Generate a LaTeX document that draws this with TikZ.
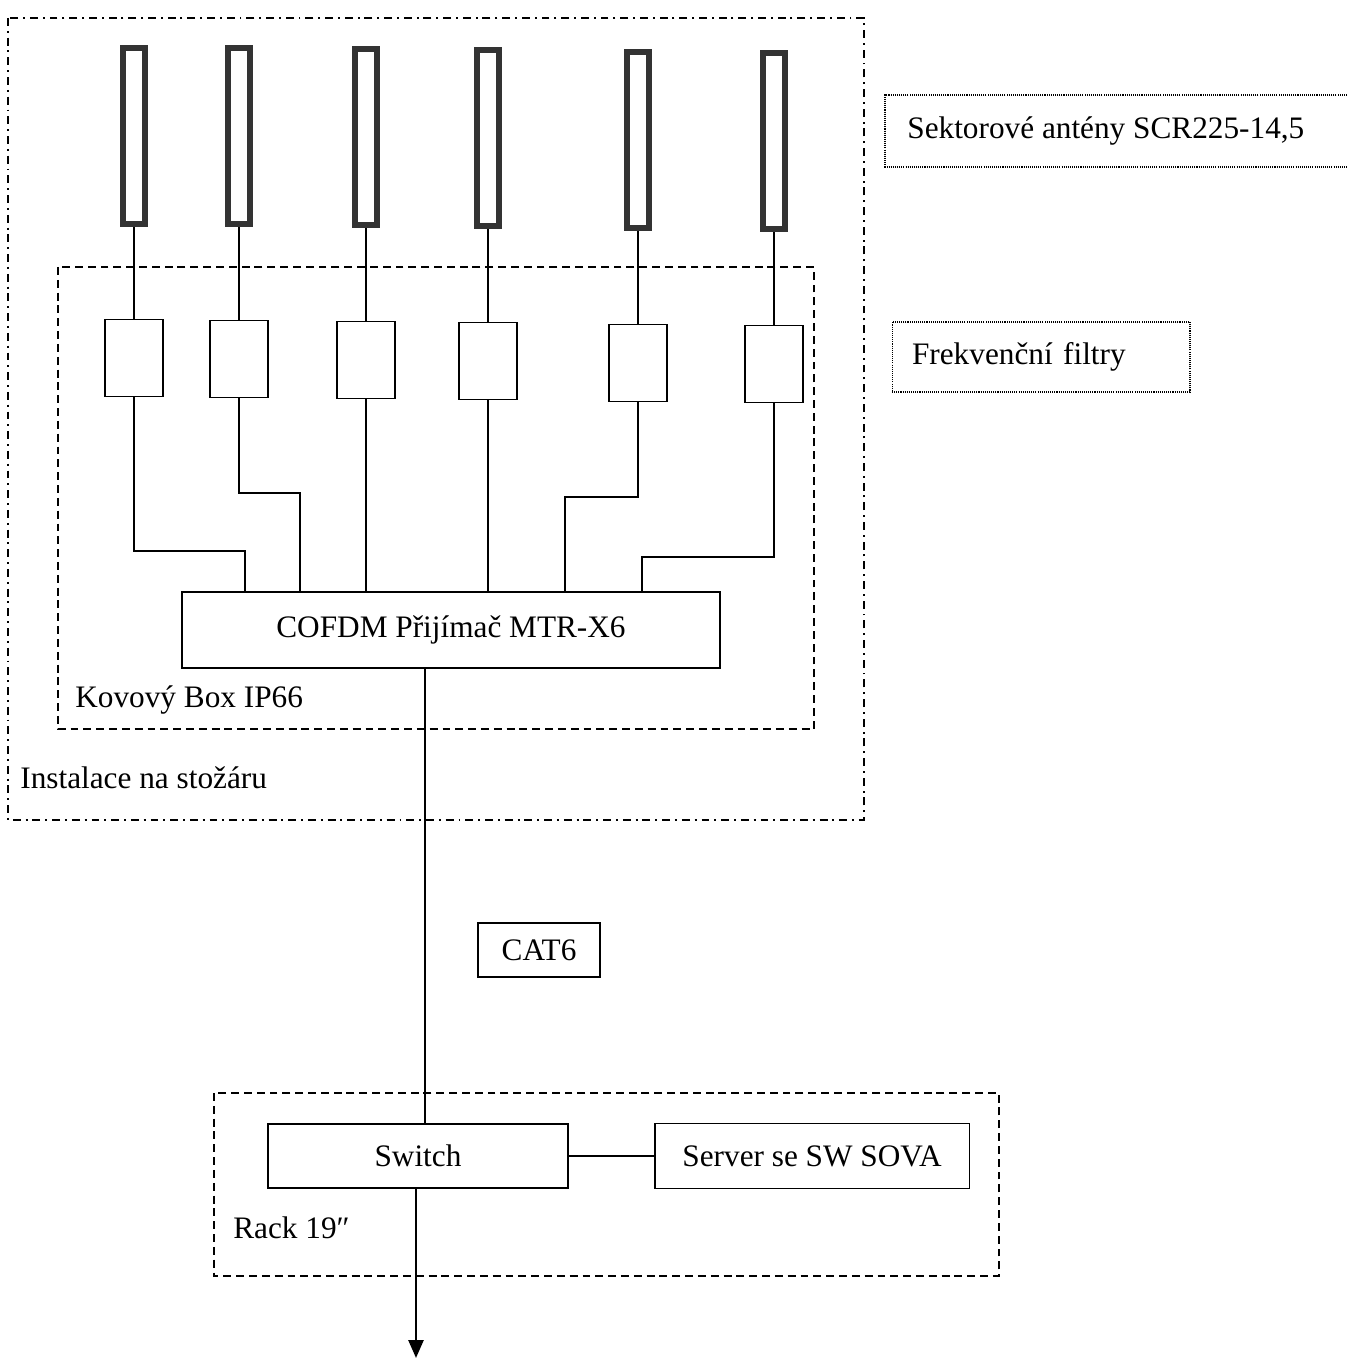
\documentclass[tikz,border=0pt]{standalone}
\usepackage{fontspec}
\setmainfont{Liberation Serif}
\usetikzlibrary{arrows.meta}

\begin{document}
\begin{tikzpicture}[x=0.02cm, y=-0.02cm,
  every node/.style={font=\fontsize{17.8}{21}\selectfont},
  antenna/.style={draw=black!80, line width=0.12cm, minimum width=0.44cm, minimum height=3.54cm, inner sep=0pt},
  filterbox/.style={draw, line width=1.1pt, minimum width=1.16cm, minimum height=1.54cm, inner sep=0pt},
  unitbox/.style={draw, line width=1.1pt, inner sep=0pt},
  wire/.style={line width=1.5pt},
  tag/.style={anchor=west, inner sep=0pt},
  mastline/.style={line width=1.1pt, dash pattern=on 4.5pt off 2.8pt on 1.1pt off 2.8pt},
  boxline/.style={line width=1.2pt, dash pattern=on 4.5pt off 2.8pt},
  noteline/.style={line width=0.6pt, dash pattern=on 0.6pt off 0.6pt}]

\useasboundingbox (0,0) rectangle (1347,1361);

\draw[mastline] (8,18) rectangle (864,820);
\draw[boxline] (58,267) rectangle (814,729);
\draw[boxline] (214,1093) rectangle (999,1276);

\node[antenna] (a1) at (134,136) {};
\node[antenna] (a2) at (239,136) {};
\node[antenna] (a3) at (366,137) {};
\node[antenna] (a4) at (488,138) {};
\node[antenna] (a5) at (638,140) {};
\node[antenna] (a6) at (774,141) {};

\node[filterbox] (f1) at (134,358) {};
\node[filterbox] (f2) at (239,359) {};
\node[filterbox] (f3) at (366,360) {};
\node[filterbox] (f4) at (488,361) {};
\node[filterbox] (f5) at (638,363) {};
\node[filterbox] (f6) at (774,364) {};

\draw[wire] (a1) -- (f1);
\draw[wire] (a2) -- (f2);
\draw[wire] (a3) -- (f3);
\draw[wire] (a4) -- (f4);
\draw[wire] (a5) -- (f5);
\draw[wire] (a6) -- (f6);

\node[unitbox, minimum width=10.78cm, minimum height=1.52cm] (rx) at (451,630) {COFDM Přijímač MTR-X6};

\coordinate (in1) at (245,592);
\coordinate (in2) at (300,592);
\coordinate (in3) at (366,592);
\coordinate (in4) at (488,592);
\coordinate (in5) at (565,592);
\coordinate (in6) at (642,592);

\draw[wire] (f1.south) |- (245,551) -- (in1);
\draw[wire] (f2.south) |- (300,493) -- (in2);
\draw[wire] (f3) -- (in3);
\draw[wire] (f4) -- (in4);
\draw[wire] (f5.south) |- (565,497) -- (in5);
\draw[wire] (f6.south) |- (642,557) -- (in6);

\node[tag] (kbox) at (75,700) {Kovový Box IP66};
\node[tag] (mast) at (20,778) {Instalace na stožáru};

\node[unitbox, minimum width=2.44cm, minimum height=1.08cm] (cat) at (539,950) {CAT6};

\node[unitbox, minimum width=6cm, minimum height=1.28cm] (sw) at (418,1156) {Switch};
\node[unitbox, minimum width=6.3cm, minimum height=1.3cm] (srv) at (812,1156) {Server se SW SOVA};
\node[tag] (rack) at (233,1228) {Rack 19″};

\coordinate (rxout) at (425,668);
\draw[wire] (rxout) -- (rxout |- sw.north);
\draw[wire] (sw) -- (srv);

\coordinate (feed) at (416,1358);
\draw[wire, -{Triangle[width=0.3cm, length=0.36cm]}] (feed |- sw.south) -- (feed);

\draw[noteline] (1347,95) -| (885,167) -- (1347,167);
\node[tag] (ant) at (907,131) {Sektorové antény SCR225-14,5};
\node[draw, noteline, minimum width=5.96cm, minimum height=1.4cm, text width=5.16cm, inner xsep=0.4cm, align=left] (flt) at (1041,357) {Frekvenční filtry};

\end{tikzpicture}
\end{document}
